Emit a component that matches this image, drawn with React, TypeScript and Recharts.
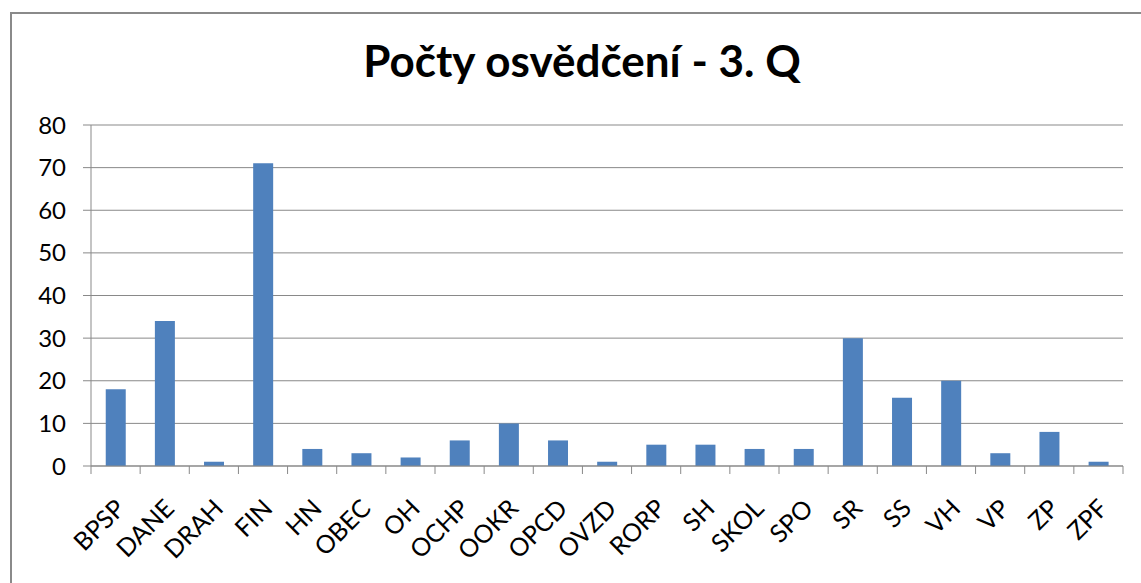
import { Bar, BarChart, CartesianGrid, XAxis, YAxis } from 'recharts';

const CATEGORIES = [
  'BPSP', 'DANE', 'DRAH', 'FIN', 'HN', 'OBEC', 'OH', 'OCHP', 'OOKR', 'OPCD', 'OVZD',
  'RORP', 'SH', 'SKOL', 'SPO', 'SR', 'SS', 'VH', 'VP', 'ZP', 'ZPF',
];
const COUNTS = [18, 34, 1, 71, 4, 3, 2, 6, 10, 6, 1, 5, 5, 4, 4, 30, 16, 20, 3, 8, 1];
const Y_TICKS = [0, 10, 20, 30, 40, 50, 60, 70, 80];
const TITLE = 'Počty osvědčení - 3. Q';

const WIDTH = 1141;
const HEIGHT = 583;
const MARGIN = { top: 125, right: 18, bottom: 0, left: 0 };
const X_AXIS_H = 117;
const Y_AXIS_W = 91;
const STEP = (WIDTH - MARGIN.right - Y_AXIS_W) / CATEGORIES.length;
const FONT = 'Lato, "Open Sans", sans-serif';
const GRID = '#898989';

const data = CATEGORIES.map((name, i) => ({ name, count: COUNTS[i] }));

function CategoryTick(props: any) {
  const { x, y, payload, index } = props;
  const axisY = y - 10;
  const last = index === CATEGORIES.length - 1;
  return (
    <g>
      <line x1={x - STEP / 2} x2={x - STEP / 2} y1={axisY} y2={axisY + 8} stroke={GRID} />
      {last && <line x1={x + STEP / 2} x2={x + STEP / 2} y1={axisY} y2={axisY + 8} stroke={GRID} />}
      <g transform={`translate(${x + 11},${y + 34})`}>
        <text
          textAnchor='end'
          transform='rotate(-45)'
          fill='#000'
          fontSize={25}
          fontFamily={FONT}
        >
          {payload.value}
        </text>
      </g>
    </g>
  );
}

export default function App() {
  return (
    <div
      style={{
        position: 'absolute',
        left: 0,
        top: 0,
        width: WIDTH,
        height: HEIGHT,
        overflow: 'hidden',
        background: '#fff',
      }}
    >
      <div
        style={{
          position: 'absolute',
          left: 10,
          top: 12,
          width: WIDTH + 50,
          height: HEIGHT + 50,
          border: '2px solid #8a8a8a',
        }}
      />
      <div
        style={{
          position: 'absolute',
          left: 0,
          width: 1164,
          top: 33,
          textAlign: 'center',
          fontFamily: FONT,
          fontWeight: 700,
          fontSize: 44,
          lineHeight: '54px',
          color: '#000',
        }}
      >
        {TITLE}
      </div>
      <div style={{ position: 'absolute', left: 0, top: 0 }}>
        <BarChart width={WIDTH} height={HEIGHT} data={data} margin={MARGIN} barCategoryGap='30%'>
          <CartesianGrid vertical={false} stroke={GRID} strokeWidth={1} />
          <XAxis
            dataKey='name'
            interval={0}
            height={X_AXIS_H}
            tickLine={false}
            axisLine={{ stroke: GRID }}
            tickSize={8}
            tick={<CategoryTick />}
          />
          <YAxis
            width={Y_AXIS_W}
            domain={[0, 80]}
            ticks={Y_TICKS}
            interval={0}
            tickSize={8}
            tickMargin={17}
            tickLine={{ stroke: GRID }}
            axisLine={{ stroke: GRID }}
            tick={{ fill: '#000', fontSize: 24, fontFamily: FONT }}
          />
          <Bar dataKey='count' fill='#4F81BD' isAnimationActive={false} />
        </BarChart>
      </div>
    </div>
  );
}
